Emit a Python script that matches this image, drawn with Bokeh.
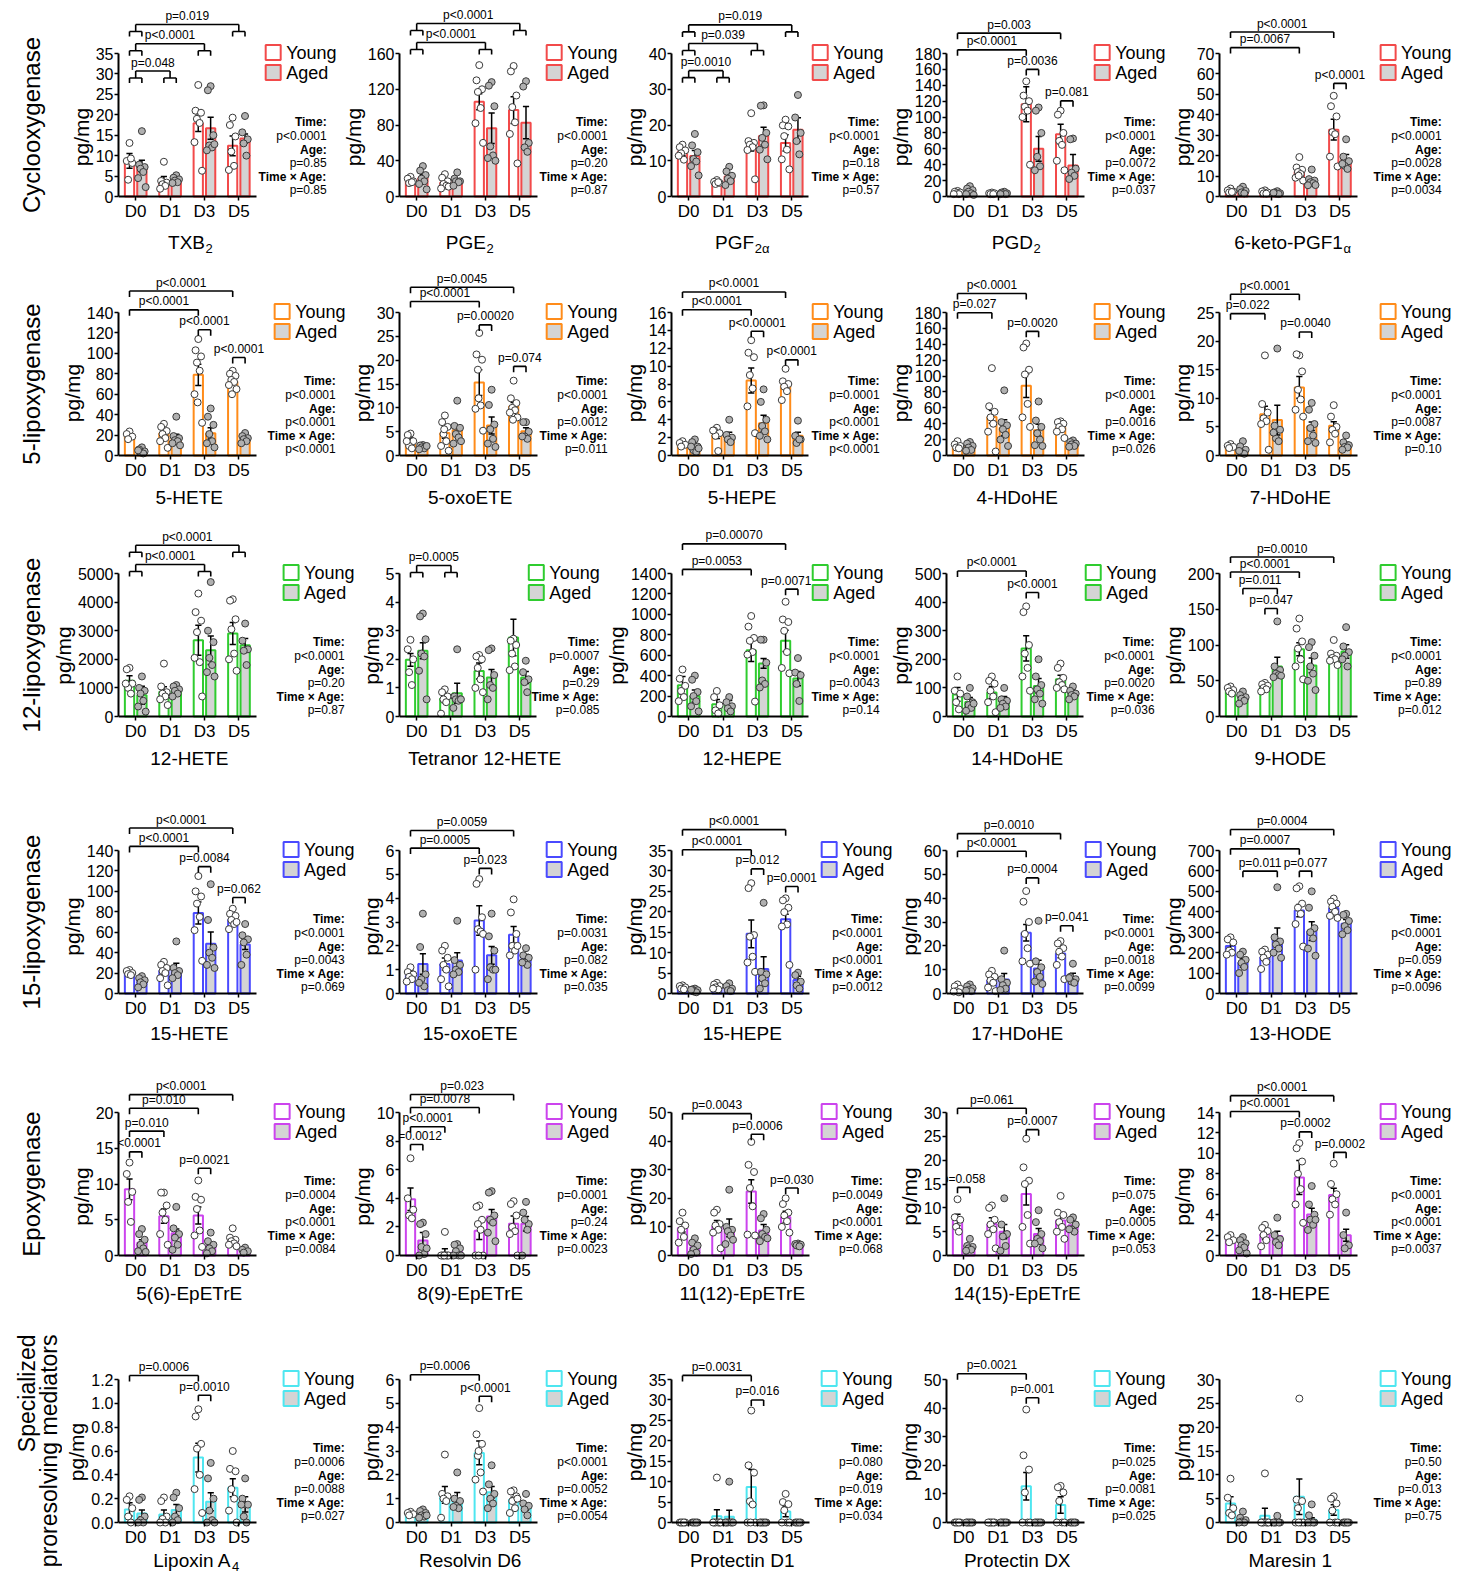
import math
from bokeh.plotting import figure
from bokeh.models import Range1d, FixedTicker, NumeralTickFormatter, Spacer
from bokeh.layouts import row, column
from bokeh.embed import file_html
from bokeh.resources import INLINE
from bokeh.core.properties import value

# ------------------------------------------------------------------ data
DAYS = ["D0", "D1", "D3", "D5"]
SERIES = ["Young", "Aged"]
STAT_KEYS = ["Time:", "Age:", "Time × Age:"]
ROW_LABELS = ["Cyclooxygenase", "5-lipoxygenase", "12-lipoxygenase",
              "15-lipoxygenase", "Epoxygenase",
              "Specialized\nproresolving mediators"]

# ---- Cyclooxygenase
TXB2_title = ("TXB", "2")
TXB2_axis = (35, 5)
TXB2_y_mean = [8.7, 3.9, 17.9, 12.4]
TXB2_y_sem = [1.8, 1.0, 2.0, 2.4]
TXB2_a_mean = [7.4, 4.1, 16.7, 14.2]
TXB2_a_sem = [1.5, 0.4, 2.7, 1.1]
TXB2_y_pts = [[13.1, 8.7, 8.2, 4.1, 9.3], [8.5, 3.8, 3.4, 3.0, 2.6, 1.9],
              [27.3, 21.0, 20.5, 19.0, 18.0, 13.3, 6.3], [19.3, 17.5, 14.7, 11.0, 7.5, 6.5]]
TXB2_a_pts = [[16.0, 7.8, 7.2, 6.8, 6.0, 4.5, 2.3], [5.2, 4.6, 4.2, 3.9, 3.5, 3.3],
              [27.0, 26.0, 15.0, 12.5, 12.0, 11.3, 12.8], [19.7, 15.7, 14.0, 13.0, 10.0]]
TXB2_brackets = [("G0", "G3", 42.1, "p=0.019"), ("G0", "G2", 37.4, "p<0.0001"),
                 ("G0", "G1", 30.7, "p=0.048")]
TXB2_stats = ["p<0.0001", "p=0.85", "p=0.85"]

PGE2_title = ("PGE", "2")
PGE2_axis = (160, 40)
PGE2_y_mean = [17.9, 15.6, 106, 96.7]
PGE2_y_sem = [2.0, 2.0, 9.0, 15.0]
PGE2_a_mean = [20.8, 18.2, 76.3, 82.6]
PGE2_a_sem = [3.5, 1.5, 17.0, 18.0]
PGE2_y_pts = [[22, 20, 17, 15, 16], [25, 21, 17, 14, 12, 9, 11],
              [147, 130, 120, 117, 99, 82, 60], [146, 140, 113, 100, 83, 70, 37]]
PGE2_a_pts = [[34, 29, 24, 20, 17, 14, 8], [27, 20, 17, 17, 16, 12],
              [128, 124, 101, 56, 46, 43, 40], [129, 123, 60, 55, 50]]
PGE2_brackets = [("G0", "G3", 193.5, "p<0.0001"), ("G0", "G2", 172.3, "p<0.0001")]
PGE2_stats = ["p<0.0001", "p=0.20", "p=0.87"]

PGF2A_title = ("PGF", "2α")
PGF2A_axis = (40, 10)
PGF2A_y_mean = [12.5, 4.0, 13.9, 15.0]
PGF2A_y_sem = [1.1, 0.3, 1.2, 2.3]
PGF2A_a_mean = [11.3, 5.6, 16.9, 18.7]
PGF2A_a_sem = [1.6, 0.7, 2.5, 3.3]
PGF2A_y_pts = [[14.5, 13.8, 12.9, 12.1, 10.3, 11.4], [4.6, 4.1, 3.8, 3.5, 4.0],
               [23.3, 15.5, 15.0, 14.5, 13.8, 13.0, 4.8], [21.5, 19.9, 19.6, 16.9, 13.1, 10.4, 7.6]]
PGF2A_a_pts = [[17.5, 14.3, 12.4, 10.5, 9.8, 8.5, 5.9], [8.3, 7.0, 5.8, 5.0, 4.3, 3.2],
               [25.5, 25.4, 17.8, 16.4, 14.5, 13.1, 10.4], [28.4, 22.1, 17.8, 15.5, 11.8]]
PGF2A_brackets = [("G0", "G3", 48.0, "p=0.019"), ("G0", "G2", 42.8, "p=0.039"),
                  ("G0", "G1", 35.2, "p=0.0010")]
PGF2A_stats = ["p<0.0001", "p=0.18", "p=0.57"]

PGD2_title = ("PGD", "2")
PGD2_axis = (180, 20)
PGD2_y_mean = [4.6, 3.8, 116, 78.5]
PGD2_y_sem = [0.8, 0.5, 22, 12.5]
PGD2_a_mean = [5.0, 4.2, 60, 39]
PGD2_a_sem = [1.5, 0.6, 15.5, 14]
PGD2_y_pts = [[7, 6, 5, 4, 3, 3], [5, 4, 4, 3, 3],
              [145, 127, 120, 113, 108, 100, 40], [108, 103, 80, 70, 65, 45, 33]]
PGD2_a_pts = [[13, 10, 8, 6, 4, 3, 2], [6, 5, 4, 4, 3, 3],
              [112, 108, 80, 50, 38, 33], [73, 72, 35, 30, 26, 22]]
PGD2_brackets = [("Y0", "Y3", 205.6, "p=0.003"), ("Y0", "Y2", 184.6, "p<0.0001"),
                 ("Y2", "A2", 160, "p=0.0036"), ("Y3", "A3", 120.4, "p=0.081")]
PGD2_stats = ["p<0.0001", "p=0.0072", "p=0.037"]

KETO_title = ("6-keto-PGF1", "α")
KETO_axis = (70, 10)
KETO_y_mean = [2.7, 2.1, 12.1, 32.7]
KETO_y_sem = [0.4, 0.3, 1.6, 5.1]
KETO_a_mean = [2.9, 1.8, 7.7, 18.2]
KETO_a_sem = [0.5, 0.2, 1.0, 2.4]
KETO_y_pts = [[3.9, 3.0, 2.4, 2.0, 2.2], [3.0, 2.5, 2.0, 1.5, 1.4],
              [19.3, 14.2, 13.1, 12.0, 11.0, 9.2, 7.8, 10.2], [49.3, 44.2, 39.2, 31.5, 30.5, 19.5, 14.7]]
KETO_a_pts = [[4.8, 3.6, 2.7, 2.0, 1.5], [2.6, 2.0, 1.6, 1.4, 1.2, 1.8],
              [13.2, 8.5, 7.8, 7.0, 6.5, 5.5, 5.6], [28.0, 19.5, 17.3, 15.0, 13.5, 16.0]]
KETO_brackets = [("Y0", "Y3", 80.5, "p<0.0001"), ("Y0", "Y2", 72.9, "p=0.0067"),
                 ("Y3", "A3", 55.4, "p<0.0001")]
KETO_stats = ["p<0.0001", "p=0.0028", "p=0.0034"]

# ---- 5-lipoxygenase
HETE5_title = ("5-HETE", "")
HETE5_axis = (140, 20)
HETE5_y_mean = [19.4, 21.7, 79, 72.3]
HETE5_y_sem = [1.5, 3.0, 10.4, 2.5]
HETE5_a_mean = [4.9, 16.8, 21.7, 15.9]
HETE5_a_sem = [1.0, 4.0, 5.5, 1.5]
HETE5_y_pts = [[23.5, 21, 18.5, 16], [31, 28, 24, 21, 17, 14, 7.5],
               [114, 103, 97, 91, 83, 60, 32, 52], [83, 80, 78, 74, 72, 69, 65, 60]]
HETE5_a_pts = [[8, 6, 4, 3, 2, 5], [38, 19, 17, 15, 14, 12, 10],
               [46, 38, 30, 21, 14, 12, 8], [22, 19, 17, 16, 14, 12]]
HETE5_brackets = [("Y0", "Y3", 161, "p<0.0001"), ("Y0", "Y2", 142.6, "p<0.0001"),
                  ("Y2", "A2", 123.1, "p<0.0001"), ("Y3", "A3", 95.9, "p<0.0001")]
HETE5_stats = ["p<0.0001", "p<0.0001", "p<0.0001"]

OXO5_title = ("5-oxoETE", "")
OXO5_axis = (30, 5)
OXO5_y_mean = [3.06, 4.7, 15.3, 10.3]
OXO5_y_sem = [0.6, 1.1, 2.7, 0.8]
OXO5_a_mean = [1.9, 5.3, 6.3, 5.1]
OXO5_a_sem = [0.3, 0.9, 1.8, 0.7]
OXO5_y_pts = [[4.6, 4.3, 3.0, 2.0, 1.5, 3.0], [8.4, 7.0, 6.0, 4.5, 3.0, 2.0, 1.0, 5.5],
              [25.7, 21.2, 20.1, 18.0, 10.5, 9.8, 5.2, 12.0], [15.7, 12.0, 11.0, 10.0, 9.5, 9.0, 8.0, 7.5]]
OXO5_a_pts = [[2.2, 2.1, 1.9, 1.7, 1.5, 1.3, 2.0], [11.5, 6.2, 5.8, 4.5, 3.8, 2.5, 3.0],
              [13.8, 10.6, 6.5, 5.5, 3.5, 2.5, 1.8], [7.0, 7.0, 5.0, 4.0, 3.5, 4.0]]
OXO5_brackets = [("Y0", "Y3", 35.3, "p=0.0045"), ("Y0", "Y2", 32.3, "p<0.0001"),
                 ("Y2", "A2", 27.4, "p=0.00020"), ("Y3", "A3", 18.7, "p=0.074")]
OXO5_stats = ["p<0.0001", "p=0.0012", "p=0.011"]

HEPE5_title = ("5-HEPE", "")
HEPE5_axis = (16, 2)
HEPE5_y_mean = [1.3, 2.3, 8.4, 7.8]
HEPE5_y_sem = [0.2, 0.4, 1.4, 0.3]
HEPE5_a_mean = [1.0, 2.2, 3.6, 2.2]
HEPE5_a_sem = [0.3, 0.4, 0.9, 0.4]
HEPE5_y_pts = [[1.6, 1.4, 1.2, 1.0], [3.1, 2.8, 2.5, 2.2, 0.5, 2.8],
               [12.9, 11.5, 11.0, 9.0, 7.5, 5.5, 2.5], [9.7, 8.3, 8.0, 7.7, 7.2, 6.2]]
HEPE5_a_pts = [[1.8, 1.5, 1.0, 0.6, 0.4, 1.0, 0.8], [4.0, 2.3, 2.0, 1.8, 1.5],
               [7.4, 6.0, 4.0, 3.3, 2.7, 2.2, 1.8], [3.9, 2.2, 1.8, 1.4, 1.8]]
HEPE5_brackets = [("Y0", "Y3", 18.3, "p<0.0001"), ("Y0", "Y2", 16.3, "p<0.0001"),
                  ("Y2", "A2", 13.9, "p<0.00001"), ("Y3", "A3", 10.7, "p<0.0001")]
HEPE5_stats = ["p=0.0001", "p<0.0001", "p<0.0001"]

HDOHE4_title = ("4-HDoHE", "")
HDOHE4_axis = (180, 20)
HDOHE4_y_mean = [12.7, 48.6, 87.9, 35.1]
HDOHE4_y_sem = [2.0, 8.0, 14.8, 3.3]
HDOHE4_a_mean = [11.4, 35.0, 31.7, 14.8]
HDOHE4_a_sem = [2.0, 10.0, 7.6, 2.0]
HDOHE4_y_pts = [[18, 14, 12, 10, 9], [110, 62, 55, 48, 40, 30, 5],
                [141, 136, 108, 102, 65, 48, 36], [43, 42, 40, 36, 33, 30, 22]]
HDOHE4_a_pts = [[17, 15, 12, 10, 7, 6], [82, 42, 38, 33, 26, 20, 12],
                [68, 44, 36, 28, 20, 13, 12], [19, 17, 15, 14, 12, 11]]
HDOHE4_brackets = [("Y0", "Y2", 204, "p<0.0001"), ("Y0", "Y1", 179.6, "p=0.027"),
                   ("Y2", "A2", 156.3, "p=0.0020")]
HDOHE4_stats = ["p<0.0001", "p=0.0016", "p=0.026"]

HDOHE7_title = ("7-HDoHE", "")
HDOHE7_axis = (25, 5)
HDOHE7_y_mean = [1.57, 7.2, 11.9, 5.2]
HDOHE7_y_sem = [0.2, 1.4, 1.9, 0.7]
HDOHE7_a_mean = [1.05, 6.2, 5.1, 1.9]
HDOHE7_a_sem = [0.3, 2.6, 0.75, 0.4]
HDOHE7_y_pts = [[2.0, 1.7, 1.5, 1.3], [17.5, 9.0, 7.5, 6.5, 6.0, 5.5, 1.0],
                [17.5, 17.7, 14.7, 11.5, 9.8, 8.0, 6.8], [8.8, 6.8, 5.0, 4.5, 3.8, 2.3]]
HDOHE7_a_pts = [[2.5, 1.6, 1.0, 0.5, 0.3, 0.8], [18.7, 5.2, 4.5, 3.0, 2.5, 4.0],
                [9.2, 8.0, 5.5, 4.8, 3.5, 2.5, 2.2], [3.5, 2.3, 1.8, 1.5, 1.4, 1.0]]
HDOHE7_brackets = [("Y0", "Y2", 28.2, "p<0.0001"), ("Y0", "Y1", 24.8, "p=0.022"),
                   ("Y2", "A2", 21.6, "p=0.0040")]
HDOHE7_stats = ["p<0.0001", "p=0.0087", "p=0.10"]

# ---- 12-lipoxygenase
HETE12_title = ("12-HETE", "")
HETE12_axis = (5000, 1000)
HETE12_y_mean = [1247, 862, 2669, 2902]
HETE12_y_sem = [175, 175, 524, 385]
HETE12_a_mean = [746, 920, 2319, 2494]
HETE12_a_sem = [314, 152, 500, 233]
HETE12_y_pts = [[1700, 1650, 1150, 1000, 800, 1150], [1850, 1050, 850, 800, 700, 600, 400],
                [4300, 3650, 3350, 2950, 1900, 2050, 700], [4100, 4050, 3400, 3050, 2200, 2000, 1600]]
HETE12_a_pts = [[1400, 1000, 900, 800, 550, 350, 170], [1100, 1050, 950, 900, 800, 700],
                [4700, 3000, 2600, 2050, 1800, 1550, 1400], [3250, 2650, 2350, 2300, 1800]]
HETE12_brackets = [("G0", "G3", 5990, "p<0.0001"), ("G0", "G2", 5315, "p<0.0001")]
HETE12_stats = ["p<0.0001", "p=0.20", "p=0.87"]

TET12_title = ("Tetranor 12-HETE", "")
TET12_axis = (5, 1)
TET12_y_mean = [1.98, 0.63, 1.59, 2.76]
TET12_y_sem = [0.22, 0.15, 0.28, 0.64]
TET12_a_mean = [2.3, 0.81, 1.36, 1.36]
TET12_a_sem = [0.28, 0.35, 0.28, 0.21]
TET12_y_pts = [[2.68, 2.35, 2.0, 1.55, 1.1], [0.95, 0.85, 0.7, 0.6, 0.5, 0.1],
               [2.15, 2.1, 2.0, 1.7, 1.3, 1.0, 0.85], [2.72, 2.65, 2.5, 2.2, 1.75, 1.62]]
TET12_a_pts = [[3.6, 3.5, 2.7, 2.2, 2.1, 1.6, 0.6], [2.35, 0.7, 0.6, 0.6, 0.55, 0.3, 0.6],
               [2.38, 2.32, 1.45, 1.1, 1.0, 0.6], [1.95, 1.55, 1.3, 1.2, 0.85]]
TET12_brackets = [("G0", "G1", 5.28, "p=0.0005")]
TET12_stats = ["p=0.0007", "p=0.29", "p=0.085"]

HEPE12_title = ("12-HEPE", "")
HEPE12_axis = (1400, 200)
HEPE12_y_mean = [305, 121, 648, 741]
HEPE12_y_sem = [86, 45, 110, 104]
HEPE12_a_mean = [201, 114, 520, 371]
HEPE12_a_sem = [59, 42, 48, 69]
HEPE12_y_pts = [[460, 370, 300, 250, 190, 150], [250, 190, 110, 60, 30],
                [984, 880, 769, 741, 631, 606, 146], [1123, 950, 925, 839, 631, 475, 423]]
HEPE12_a_pts = [[400, 360, 240, 200, 150, 100, 50], [190, 140, 100, 80, 50],
                [752, 752, 527, 353, 319, 284], [572, 430, 405, 319, 152]]
HEPE12_brackets = [("Y0", "Y3", 1690, "p=0.00070"), ("Y0", "Y2", 1440, "p=0.0053"),
                   ("Y3", "A3", 1247, "p=0.0071")]
HEPE12_stats = ["p<0.0001", "p=0.0043", "p=0.14"]

HDOHE14_title = ("14-HDoHE", "")
HDOHE14_axis = (500, 100)
HDOHE14_y_mean = [77, 84, 238, 130.5]
HDOHE14_y_sem = [24, 21, 44, 14]
HDOHE14_a_mean = [51, 57, 107, 80]
HDOHE14_a_sem = [15, 13, 26, 12]
HDOHE14_y_pts = [[140, 90, 80, 50, 25], [140, 125, 115, 90, 70, 50, 15],
                 [385, 365, 250, 220, 170, 140, 90], [185, 170, 135, 120, 110, 100, 95]]
HDOHE14_a_pts = [[100, 70, 50, 40, 30, 20, 45], [100, 60, 55, 45, 35, 30],
                 [200, 140, 110, 95, 80, 60, 45], [105, 90, 80, 75, 70, 60]]
HDOHE14_brackets = [("Y0", "Y2", 509, "p<0.0001"), ("Y2", "A2", 433.6, "p<0.0001")]
HDOHE14_stats = ["p<0.0001", "p=0.0020", "p=0.036"]

HODE9_title = ("9-HODE", "")
HODE9_axis = (200, 50)
HODE9_y_mean = [36.4, 41.1, 94, 84.6]
HODE9_y_sem = [2.4, 3.3, 9.0, 3.3]
HODE9_a_mean = [25.7, 70, 71.5, 91]
HODE9_a_sem = [3.7, 13, 10.3, 9.5]
HODE9_y_pts = [[42, 40, 37, 35, 32], [47, 45, 43, 40, 38, 35],
               [137, 123, 105, 95, 80, 70, 52], [107, 88, 85, 82, 80, 78, 72]]
HODE9_a_pts = [[35, 30, 27, 25, 22, 18], [133, 70, 65, 60, 58, 55, 57],
               [104, 97, 85, 70, 60, 50, 37], [125, 98, 90, 85, 70, 80]]
HODE9_brackets = [("Y0", "Y3", 223, "p=0.0010"), ("Y0", "Y2", 202, "p<0.0001"),
                  ("A0", "A1", 179, "p=0.011"), ("Y1", "A1", 151, "p=0.047")]
HODE9_stats = ["p<0.0001", "p=0.89", "p=0.012"]

# ---- 15-lipoxygenase
HETE15_title = ("15-HETE", "")
HETE15_axis = (140, 20)
HETE15_y_mean = [20.7, 22.3, 78.9, 72.3]
HETE15_y_sem = [1.5, 3.7, 10.8, 3.3]
HETE15_a_mean = [11.8, 24, 48.6, 48]
HETE15_a_sem = [1.5, 5.6, 11.5, 4.9]
HETE15_y_pts = [[23, 22, 20, 19, 18], [31, 28, 25, 22, 20, 15, 8],
                [115, 100, 95, 88, 75, 62, 32], [83, 78, 76, 72, 68, 63, 70]]
HETE15_a_pts = [[17, 15, 13, 11, 9, 6], [51, 25, 22, 20, 18, 15],
                [107, 72, 45, 40, 35, 28, 25], [68, 57, 53, 50, 38, 28]]
HETE15_brackets = [("Y0", "Y3", 162, "p<0.0001"), ("Y0", "Y2", 144, "p<0.0001"),
                   ("Y2", "A2", 124.2, "p=0.0084"), ("Y3", "A3", 94, "p=0.062")]
HETE15_stats = ["p<0.0001", "p=0.0043", "p=0.069"]

OXO15_title = ("15-oxoETE", "")
OXO15_axis = (6, 1)
OXO15_y_mean = [0.76, 1.24, 3.06, 2.46]
OXO15_y_sem = [0.18, 0.25, 0.62, 0.35]
OXO15_a_mean = [1.24, 1.38, 1.6, 1.46]
OXO15_a_sem = [0.43, 0.33, 0.37, 0.18]
OXO15_y_pts = [[1.1, 0.9, 0.8, 0.7, 0.6, 0.5], [2.0, 1.8, 1.5, 1.2, 1.0, 0.6, 0.3],
               [4.8, 4.6, 3.2, 2.7, 2.6, 1.0, 2.5], [3.95, 3.4, 2.5, 2.0, 1.8, 1.6, 2.0]]
OXO15_a_pts = [[3.35, 1.95, 0.8, 0.6, 0.3, 0.45], [3.05, 1.4, 1.2, 1.0, 0.9, 0.8],
               [3.35, 2.4, 1.8, 1.1, 1.0, 0.6, 1.0], [1.9, 1.6, 1.5, 1.3, 1.2, 1.3]]
OXO15_brackets = [("Y0", "Y3", 6.84, "p=0.0059"), ("Y0", "Y2", 6.1, "p=0.0005"),
                  ("Y2", "A2", 5.25, "p=0.023")]
OXO15_stats = ["p=0.0031", "p=0.082", "p=0.035"]

HEPE15_title = ("15-HEPE", "")
HEPE15_axis = (35, 5)
HEPE15_y_mean = [1.5, 1.6, 14.6, 18.2]
HEPE15_y_sem = [0.2, 0.25, 3.4, 1.2]
HEPE15_a_mean = [0.8, 1.3, 6.0, 3.3]
HEPE15_a_sem = [0.15, 0.3, 3.0, 0.9]
HEPE15_y_pts = [[2.0, 1.8, 1.5, 1.2, 1.0], [2.6, 2.2, 1.8, 1.5, 1.0, 1.2],
                [27.0, 25.8, 14.3, 13.9, 9.0, 7.6, 5.3], [23.3, 22.8, 21.0, 19.9, 16.9, 16.4, 7.0]]
HEPE15_a_pts = [[1.2, 1.0, 0.8, 0.5, 0.3, 0.9], [2.5, 1.8, 1.2, 0.8, 0.6],
                [22.2, 5.3, 4.7, 3.7, 2.5, 1.2], [5.1, 4.5, 2.9, 2.0, 1.2]]
HEPE15_brackets = [("Y0", "Y3", 40.1, "p<0.0001"), ("Y0", "Y2", 35.2, "p<0.0001"),
                   ("Y2", "A2", 30.5, "p=0.012"), ("Y3", "A3", 26.2, "p=0.0001")]
HEPE15_stats = ["p<0.0001", "p<0.0001", "p=0.0012"]

HDOHE17_title = ("17-HDoHE", "")
HDOHE17_axis = (60, 10)
HDOHE17_y_mean = [1.8, 5.6, 25.5, 16.8]
HDOHE17_y_sem = [0.5, 1.7, 3.5, 1.8]
HDOHE17_a_mean = [2.1, 5.9, 10.5, 6.9]
HDOHE17_a_sem = [0.4, 2.5, 3.5, 1.6]
HDOHE17_y_pts = [[3.8, 3.0, 2.0, 1.0, 0.5, 0.8], [9.5, 8.0, 7.0, 5.5, 4.5, 2.5, 1.0],
                 [43.0, 38.5, 30.0, 25.0, 19.0, 13.5, 12.5], [22.0, 21.0, 19.0, 17.5, 15.5, 12.0, 6.0]]
HDOHE17_a_pts = [[3.8, 3.0, 2.2, 1.5, 1.0, 1.2], [18.0, 6.0, 4.5, 3.5, 2.0, 1.5],
                 [30.5, 13.5, 11.0, 9.0, 7.0, 5.0, 4.0], [12.5, 7.0, 6.0, 5.0, 4.5, 6.5]]
HDOHE17_brackets = [("Y0", "Y3", 67.1, "p=0.0010"), ("Y0", "Y2", 59.7, "p<0.0001"),
                    ("Y2", "A2", 48.5, "p=0.0004"), ("Y3", "A3", 28.4, "p=0.041")]
HDOHE17_stats = ["p<0.0001", "p=0.0018", "p=0.0099"]

HODE13_title = ("13-HODE", "")
HODE13_axis = (700, 100)
HODE13_y_mean = [232, 178, 406, 419]
HODE13_y_sem = [19, 18, 30, 17]
HODE13_a_mean = [150, 264, 305, 341]
HODE13_a_sem = [21, 57, 46, 21]
HODE13_y_pts = [[275, 265, 250, 210, 200, 190], [215, 205, 190, 175, 155, 120],
                [525, 515, 440, 420, 390, 340, 230], [465, 450, 440, 425, 400, 380, 370]]
HODE13_a_pts = [[205, 190, 165, 150, 130, 100], [520, 275, 255, 240, 220, 200, 175],
                [500, 420, 320, 300, 270, 220, 185], [390, 385, 355, 330, 310, 290]]
HODE13_brackets = [("Y0", "Y3", 803, "p=0.0004"), ("Y0", "Y2", 708, "p=0.0007"),
                   ("A0", "A1", 599, "p=0.011"), ("Y2", "A2", 599, "p=0.077")]
HODE13_stats = ["p<0.0001", "p=0.059", "p=0.0096"]

# ---- Epoxygenase
EP56_title = ("5(6)-EpETrE", "")
EP56_axis = (20, 5)
EP56_y_mean = [9.25, 5.5, 5.6, 2.1]
EP56_y_sem = [1.45, 1.0, 1.2, 0.3]
EP56_a_mean = [1.78, 3.1, 1.4, 0.7]
EP56_a_sem = [0.42, 0.6, 0.3, 0.15]
EP56_y_pts = [[13.0, 11.4, 8.9, 7.5, 4.7], [8.8, 8.8, 7.0, 6.0, 5.0, 3.0, 1.5],
              [10.5, 8.2, 7.8, 6.5, 3.5, 2.8, 1.2], [3.8, 2.5, 2.2, 2.0, 1.7, 1.5, 1.3]]
EP56_a_pts = [[3.7, 3.0, 2.2, 1.5, 1.0, 0.6, 0.5], [6.8, 3.8, 3.0, 2.5, 1.5, 0.8],
              [3.2, 2.0, 1.5, 1.0, 0.6, 0.3], [1.1, 0.8, 0.6, 0.4]]
EP56_brackets = [("Y0", "Y3", 22.5, "p<0.0001"), ("Y0", "Y2", 20.6, "p=0.010"),
                 ("Y0", "Y1", 17.4, "p=0.010"), ("Y0", "A0", 14.5, "p<0.0001"),
                 ("Y2", "A2", 12.2, "p=0.0021")]
EP56_stats = ["p=0.0004", "p<0.0001", "p=0.0084"]

EP89_title = ("8(9)-EpETrE", "")
EP89_axis = (10, 2)
EP89_y_mean = [3.93, 0.16, 1.73, 2.22]
EP89_y_sem = [0.79, 0.31, 0.61, 0.54]
EP89_a_mean = [1.05, 0.28, 2.73, 2.22]
EP89_a_sem = [0.55, 0.23, 0.49, 0.51]
EP89_y_pts = [[6.8, 4.0, 3.2, 2.8, 2.6], [1.65, 0, 0, 0, 0, 0, 0, 0],
              [3.5, 3.4, 2.5, 2.2, 1.8, 0.0, 0.0, 0.0], [3.8, 3.6, 2.8, 2.0, 1.7, 1.5, 0.0]]
EP89_a_pts = [[2.3, 2.2, 1.5, 0.6, 0.1, 0.0, 0.5], [0.8, 0.75, 0.5, 0.3, 0.0, 0.0, 0.0],
              [4.5, 4.4, 2.8, 2.5, 2.3, 1.6, 1.0], [3.75, 3.0, 2.2, 2.5, 1.8, 0.0]]
EP89_brackets = [("Y0", "Y3", 11.26, "p=0.023"), ("Y0", "Y2", 10.35, "p=0.0078"),
                 ("Y0", "Y1", 9.0, "p<0.0001"), ("Y0", "A0", 7.76, "p=0.0012")]
EP89_stats = ["p=0.0001", "p=0.24", "p=0.0023"]

EP1112_title = ("11(12)-EpETrE", "")
EP1112_axis = (50, 10)
EP1112_y_mean = [9.65, 10.2, 22.4, 13.5]
EP1112_y_sem = [1.4, 2.0, 4.1, 2.0]
EP1112_a_mean = [2.9, 9.65, 8.7, 3.6]
EP1112_a_sem = [0.8, 3.1, 2.1, 0.5]
EP1112_y_pts = [[15.0, 12.0, 10.5, 9.0, 6.5, 4.5], [16.0, 15.0, 11.0, 10.5, 9.0, 8.0, 2.5],
                [39.7, 31.7, 29.2, 23.6, 17.2, 7.3, 7.0], [20.0, 18.0, 15.0, 14.0, 12.0, 10.0, 8.0]]
EP1112_a_pts = [[6.0, 4.5, 3.5, 2.0, 1.0, 0.5], [23.0, 10.0, 9.0, 8.5, 7.0, 4.0, 5.5],
                [14.5, 13.0, 9.0, 7.5, 6.5, 5.0, 6.0], [4.2, 4.0, 3.8, 3.5, 3.2]]
EP1112_brackets = [("Y0", "Y2", 49.6, "p=0.0043"), ("Y2", "A2", 42.4, "p=0.0006"),
                   ("Y3", "A3", 23.6, "p=0.030")]
EP1112_stats = ["p=0.0049", "p<0.0001", "p=0.068"]

EP1415_title = ("14(15)-EpETrE", "")
EP1415_axis = (30, 5)
EP1415_y_mean = [7.47, 6.63, 12.9, 7.33]
EP1415_y_sem = [1.2, 1.3, 2.3, 1.1]
EP1415_a_mean = [1.88, 5.0, 4.5, 6.35]
EP1415_a_sem = [0.3, 1.5, 1.15, 0.85]
EP1415_y_pts = [[11.8, 8.0, 7.5, 6.0, 5.0], [10.5, 10.0, 7.5, 6.5, 5.5, 4.5, 1.5],
                [24.5, 18.5, 15.7, 15.0, 8.5, 6.0, 2.5], [12.5, 9.0, 8.5, 7.0, 6.0, 5.0, 3.5]]
EP1415_a_pts = [[3.5, 2.0, 1.8, 1.5, 1.2, 1.0], [12.0, 6.5, 4.5, 4.0, 2.0, 1.0],
                [9.5, 7.0, 4.5, 3.5, 3.0, 2.5, 1.5], [8.0, 7.5, 6.5, 5.5, 5.0, 5.5]]
EP1415_brackets = [("Y0", "Y2", 30.9, "p=0.061"), ("Y2", "A2", 26.4, "p=0.0007"),
                   ("Y0", "A0", 14.3, "p=0.058")]
EP1415_stats = ["p=0.075", "p=0.0005", "p=0.053"]

HEPE18_title = ("18-HEPE", "")
HEPE18_axis = (14, 2)
HEPE18_y_mean = [1.65, 2.07, 7.64, 5.93]
HEPE18_y_sem = [0.25, 0.5, 1.66, 0.66]
HEPE18_a_mean = [0.99, 1.91, 4.02, 1.98]
HEPE18_a_sem = [0.3, 0.46, 0.6, 0.59]
HEPE18_y_pts = [[2.0, 1.8, 1.5, 1.3], [3.0, 2.7, 2.4, 2.0, 1.5, 0.9],
                [11.0, 10.5, 9.2, 8.0, 6.5, 5.0, 3.2], [9.0, 7.0, 6.0, 5.5, 5.0, 4.0]]
HEPE18_a_pts = [[1.8, 1.5, 1.2, 1.0, 0.8, 0.5, 0.2], [3.7, 2.0, 1.6, 1.3, 1.0],
                [6.8, 5.0, 4.0, 3.5, 3.0, 2.5, 3.5], [4.2, 2.0, 1.0, 0.7]]
HEPE18_brackets = [("Y0", "Y3", 15.65, "p<0.0001"), ("Y0", "Y2", 14.1, "p<0.0001"),
                   ("Y2", "A2", 12.1, "p=0.0002"), ("Y3", "A3", 10.1, "p=0.0002")]
HEPE18_stats = ["p<0.0001", "p<0.0001", "p=0.0037"]

# ---- Specialized proresolving mediators
LXA4_title = ("Lipoxin A", "4")
LXA4_axis = (1.2, 0.2)
LXA4_y_mean = [0.11, 0.067, 0.545, 0.292]
LXA4_y_sem = [0.056, 0.037, 0.121, 0.076]
LXA4_a_mean = [0.076, 0.104, 0.174, 0.152]
LXA4_a_sem = [0.028, 0.048, 0.076, 0.064]
LXA4_y_pts = [[0.22, 0.19, 0.12, 0.05, 0.0], [0.21, 0.18, 0.05, 0.03, 0.0, 0.0],
              [0.95, 0.89, 0.66, 0.62, 0.4, 0.28, 0.08], [0.6, 0.45, 0.43, 0.28, 0.2, 0.1, 0.0]]
LXA4_a_pts = [[0.21, 0.19, 0.05, 0.02, 0.0, 0.0], [0.25, 0.21, 0.12, 0.05, 0.02, 0.0],
              [0.5, 0.37, 0.2, 0.1, 0.02, 0.0, 0.0], [0.37, 0.2, 0.15, 0.05, 0.0, 0.15]]
LXA4_brackets = [("Y0", "Y2", 1.234, "p=0.0006"), ("Y2", "A2", 1.068, "p=0.0010")]
LXA4_stats = ["p=0.0006", "p=0.0088", "p=0.027"]

RVD6_title = ("Resolvin D6", "")
RVD6_axis = (6, 1)
RVD6_y_mean = [0.38, 1.16, 2.92, 0.95]
RVD6_y_sem = [0.05, 0.35, 0.5, 0.11]
RVD6_a_mean = [0.35, 0.99, 1.27, 0.66]
RVD6_a_sem = [0.05, 0.27, 0.24, 0.14]
RVD6_y_pts = [[0.45, 0.4, 0.35, 0.3], [2.85, 1.2, 1.1, 1.0, 0.9, 0.2],
              [4.8, 3.7, 3.3, 2.8, 2.1, 1.8, 1.3, 3.0], [1.35, 1.3, 1.1, 0.9, 0.6, 0.4, 1.0]]
RVD6_a_pts = [[0.55, 0.48, 0.4, 0.3, 0.25, 0.2, 0.3], [2.1, 1.0, 0.9, 0.7, 0.6, 0.65],
              [2.4, 1.6, 1.2, 1.0, 0.8, 0.6], [1.2, 0.8, 0.7, 0.55, 0.3]]
RVD6_brackets = [("Y0", "Y2", 6.2, "p=0.0006"), ("Y2", "A2", 5.3, "p<0.0001")]
RVD6_stats = ["p<0.0001", "p=0.0052", "p=0.0054"]

PD1_title = ("Protectin D1", "")
PD1_axis = (35, 5)
PD1_y_mean = [0.0, 1.5, 8.7, 2.7]
PD1_y_sem = [0.0, 1.6, 4.3, 1.3]
PD1_a_mean = [0.0, 1.4, 0.0, 0.0]
PD1_a_sem = [0.0, 1.6, 0.0, 0.0]
PD1_y_pts = [[0, 0, 0, 0, 0], [11.0, 0, 0, 0, 0, 0, 0],
             [27.4, 14.0, 12.2, 5.2, 4.4, 0, 0, 0], [7.0, 5.0, 4.5, 3.0, 0, 0, 0]]
PD1_a_pts = [[0, 0, 0, 0, 0], [10.0, 0, 0, 0, 0, 0, 0], [0, 0, 0, 0, 0, 0], [0, 0, 0, 0, 0]]
PD1_brackets = [("Y0", "Y2", 36.0, "p=0.0031"), ("Y2", "A2", 30.0, "p=0.016")]
PD1_stats = ["p=0.080", "p=0.019", "p=0.034"]

PDX_title = ("Protectin DX", "")
PDX_axis = (50, 10)
PDX_y_mean = [0.0, 0.1, 12.7, 6.1]
PDX_y_sem = [0.0, 0.05, 4.8, 2.9]
PDX_a_mean = [0.0, 0.0, 0.0, 0.0]
PDX_a_sem = [0.0, 0.0, 0.0, 0.0]
PDX_y_pts = [[0, 0, 0, 0, 0], [0, 0, 0, 0, 0, 0],
             [39.5, 23.5, 18.5, 10.5, 0, 0, 0], [12.8, 12.3, 10.5, 7.5, 0, 0, 0]]
PDX_a_pts = [[0, 0, 0, 0, 0, 0], [0, 0, 0, 0, 0, 0], [0, 0, 0, 0, 0, 0], [0, 0, 0, 0, 0]]
PDX_brackets = [("Y0", "Y2", 52.0, "p=0.0021"), ("Y2", "A2", 43.6, "p=0.001")]
PDX_stats = ["p=0.025", "p=0.0081", "p=0.025"]

MAR1_title = ("Maresin 1", "")
MAR1_axis = (30, 5)
MAR1_y_mean = [4.0, 1.4, 5.4, 2.6]
MAR1_y_sem = [1.4, 1.6, 3.7, 1.1]
MAR1_a_mean = [0.6, 0.2, 0.6, 0.0]
MAR1_a_sem = [0.35, 0.2, 0.4, 0.0]
MAR1_y_pts = [[9.2, 5.2, 3.0, 2.0, 1.5], [10.3, 0, 0, 0, 0, 0, 0],
              [26.0, 4.8, 4.5, 3.0, 0, 0, 0, 0], [5.5, 5.0, 4.0, 2.5, 0, 0, 0]]
MAR1_a_pts = [[2.3, 1.0, 0.5, 0.2, 0, 0], [1.4, 0, 0, 0, 0, 0], [3.8, 1.5, 0, 0, 0, 0], [0, 0, 0, 0, 0]]
MAR1_brackets = []
MAR1_stats = ["p=0.50", "p=0.013", "p=0.75"]

PANEL_NAMES = [["TXB2", "PGE2", "PGF2A", "PGD2", "KETO"],
               ["HETE5", "OXO5", "HEPE5", "HDOHE4", "HDOHE7"],
               ["HETE12", "TET12", "HEPE12", "HDOHE14", "HODE9"],
               ["HETE15", "OXO15", "HEPE15", "HDOHE17", "HODE13"],
               ["EP56", "EP89", "EP1112", "EP1415", "HEPE18"],
               ["LXA4", "RVD6", "PD1", "PDX", "MAR1"]]

# ------------------------------------------------------------------ style / layout
ROW_COLORS = ["#f24a4a", "#ff8c1a", "#2fcc2f", "#4a4aff", "#cc44ee", "#4ee6f0"]
AGED_FILL = "#d4d4d4"
AGED_PT = "#b0b0b0"
PT_LINE = "#3a3a3a"
FONT = "'Liberation Sans', Arial, sans-serif"

YTICK_FS = 16
XTICK_FS = 17
BR_FS = 12
ST_FS = 12
TI_FS = 19
SUB_FS = 13
LEG_FS = 18
YLAB_FS = 21
ROW_FS = 24

DATA_PX = 143          # pixel height of the 0..ymax span
PX_UNIT = 35.0         # pixels per day-group
OFF = 0.18             # young/aged offset from group centre
BAR_W = 0.27
CAP = 0.09
JIT = [0.0, -0.08, 0.08, -0.04, 0.04, -0.11, 0.11, -0.02, 0.02]
FRAME_LEFT = [114, 395, 667, 942, 1215]   # page x of each panel's y axis
PAGE_END = 1453
ROW_GEOM = [(257, 188), (255, 190), (270, 196), (272, 203), (268, 193), (243, 192)]
TITLE_OFF = [46, 42, 42, 40, 38, 38]

CW = {".": 0.278, "-": 0.333, "(": 0.333, ")": 0.333, " ": 0.278, "α": 0.58,
      "=": 0.584, "<": 0.584}


def tw(s, size):
    w = 0.0
    for c in s:
        if c in CW:
            w += CW[c]
        elif c.isdigit():
            w += 0.556
        elif c.isupper():
            w += 0.68
        else:
            w += 0.53
    return w * size


def get_panel(name):
    g = globals()
    keys = ("title", "axis", "y_mean", "y_sem", "a_mean", "a_sem",
            "y_pts", "a_pts", "brackets", "stats")
    return {k: g[f"{name}_{k}"] for k in keys}


def txt(p, x, y, s, size, align="center", base="middle",
        style="normal", xoff=0, angle=0.0):
    p.text(x=x, y=y, text=s, text_font=value(FONT), text_font_size=f"{size}px",
           text_align=align, text_baseline=base, text_font_style=style,
           x_offset=xoff, angle=angle, text_color="black")


def tick_list(ymax, step):
    n = int(round(ymax / step))
    return [round(i * step, 6) for i in range(n + 1)]


def need_border(P):
    ymax, step = P["axis"]
    labs = [f"{t:.1f}" if step < 1 else f"{t:g}" for t in tick_list(ymax, step)]
    return int(math.ceil(4 + 1 + max(tw(s, YTICK_FS) for s in labs) + YLAB_FS * 1.13 + 1))


def make_panel(P, color, h, z, width, border, title_off):
    ymax, step = P["axis"]
    ticks = tick_list(ymax, step)
    k = ymax / DATA_PX
    fw = width - border
    x0 = -0.5
    x1 = x0 + fw / PX_UNIT
    p = figure(width=width, height=h, x_range=Range1d(x0, x1),
               y_range=Range1d(-k * (h - z), k * z),
               output_backend="svg", toolbar_location=None,
               min_border_left=border, min_border_right=0,
               min_border_top=0, min_border_bottom=0)
    p.outline_line_color = None
    p.xgrid.visible = False
    p.ygrid.visible = False
    p.background_fill_color = "white"
    p.border_fill_color = "white"

    xa = p.xaxis[0]
    xa.fixed_location = 0
    xa.bounds = (-0.5, 3.5)
    xa.ticker = FixedTicker(ticks=[0, 1, 2, 3])
    xa.major_label_overrides = {i: d for i, d in enumerate(DAYS)}
    xa.axis_line_width = 2
    xa.axis_line_color = "black"
    xa.major_tick_in = 0
    xa.major_tick_out = 4
    xa.major_tick_line_width = 1.5
    xa.minor_tick_line_color = None
    xa.major_label_text_font = FONT
    xa.major_label_text_font_size = f"{XTICK_FS}px"
    xa.major_label_text_color = "black"
    xa.major_label_standoff = 1

    ya = p.yaxis[0]
    ya.ticker = FixedTicker(ticks=ticks)
    if step < 1:
        ya.formatter = NumeralTickFormatter(format="0.0")
    ya.bounds = (0, ymax)
    ya.axis_line_width = 2
    ya.axis_line_color = "black"
    ya.major_tick_in = 0
    ya.major_tick_out = 4
    ya.major_tick_line_width = 1.5
    ya.minor_tick_line_color = None
    ya.major_label_text_font = FONT
    ya.major_label_text_font_size = f"{YTICK_FS}px"
    ya.major_label_text_color = "black"
    ya.major_label_standoff = 1
    ya.axis_label = "pg/mg"
    ya.axis_label_text_font = FONT
    ya.axis_label_text_font_size = f"{YLAB_FS}px"
    ya.axis_label_text_font_style = "normal"
    ya.axis_label_text_color = "black"
    ya.axis_label_standoff = 0

    gx = list(range(4))
    xy = [g - OFF for g in gx]
    xg = [g + OFF for g in gx]

    # bars (group means)
    p.vbar(x=xy, top=P["y_mean"], bottom=0, width=BAR_W, fill_color="white",
           line_color=color, line_width=2)
    p.vbar(x=xg, top=P["a_mean"], bottom=0, width=BAR_W, fill_color=AGED_FILL,
           line_color=color, line_width=2)

    # error bars (mean +/- SEM)
    ex0, ey0, ex1, ey1 = [], [], [], []
    for xs, ms, ss in ((xy, P["y_mean"], P["y_sem"]), (xg, P["a_mean"], P["a_sem"])):
        for x, m, s in zip(xs, ms, ss):
            if s <= 0:
                continue
            lo, hi = max(m - s, 0), m + s
            ex0 += [x, x - CAP, x - CAP]
            ex1 += [x, x + CAP, x + CAP]
            ey0 += [lo, hi, lo]
            ey1 += [hi, hi, lo]
    p.segment(x0=ex0, y0=ey0, x1=ex1, y1=ey1, line_color="black", line_width=1.5)

    # individual animals
    px, py, pf = [], [], []
    for g in gx:
        for i, v in enumerate(P["y_pts"][g]):
            px.append(g - OFF + JIT[i % len(JIT)]); py.append(v); pf.append("white")
        for i, v in enumerate(P["a_pts"][g]):
            px.append(g + OFF + JIT[i % len(JIT)]); py.append(v); pf.append(AGED_PT)
    p.scatter(x=px, y=py, size=7, marker="circle", fill_color=pf,
              line_color=PT_LINE, line_width=1)

    # legend geometry (pixels inside the frame)
    leg_left = fw - 74
    leg_lo, leg_hi = DATA_PX - 29, DATA_PX + 11

    # significance brackets
    bx0, by0, bx1, by1 = [], [], [], []
    tx, ty, tt, to = [], [], [], []

    def seg(a, b, c, d):
        bx0.append(a); by0.append(b); bx1.append(c); by1.append(d)

    def pos(code):
        g = int(code[1:])
        return {"Y": g - OFF, "A": g + OFF, "G": g}[code[0]]

    for a, b, yv, label in P["brackets"]:
        xa_, xb_ = pos(a), pos(b)
        if a[0] == "G":
            ys = yv - 7 * k
            seg(xa_, yv, xb_, yv)
            seg(xa_, yv, xa_, ys)
            seg(xb_, yv, xb_, ys)
            for g in (xa_, xb_):
                seg(g - OFF, ys, g + OFF, ys)
                seg(g - OFF, ys, g - OFF, ys - 5 * k)
                seg(g + OFF, ys, g + OFF, ys - 5 * k)
        else:
            seg(xa_, yv, xb_, yv)
            seg(xa_, yv, xa_, yv - 6 * k)
            seg(xb_, yv, xb_, yv - 6 * k)
        xc = (xa_ + xb_) / 2
        # keep the label clear of the legend block
        c_px = (xc - x0) * PX_UNIT
        right = c_px + tw(label, BR_FS) / 2
        y_px = yv / k
        shift = 0.0
        if y_px + 1.5 < leg_hi and y_px + 16 > leg_lo and right > leg_left - 2:
            shift = (leg_left - 2) - right
        tx.append(xc); ty.append(yv + 1.5 * k); tt.append(label); to.append(shift)
    if bx0:
        p.segment(x0=bx0, y0=by0, x1=bx1, y1=by1, line_color="black", line_width=1.6)
        txt(p, tx, ty, tt, BR_FS, align="center", base="bottom", xoff=to)

    # legend
    lx = x0 + (leg_left + 7.5) / PX_UNIT
    ly = [ymax + 1 * k, ymax - 19 * k]
    p.scatter(x=[lx, lx], y=ly, marker="square", size=15,
              fill_color=["white", AGED_FILL], line_color=color, line_width=2)
    txt(p, [lx, lx], ly, SERIES, LEG_FS, align="left", base="middle", xoff=13)

    # two-way ANOVA summary
    srx = min(fw - 2, max(fw - 12, 212))
    sx = x0 + srx / PX_UNIT
    txt(p, [sx] * 3, [75 * k, 47 * k, 20 * k], STAT_KEYS, ST_FS, align="right", style="bold")
    txt(p, [sx] * 3, [61 * k, 33.5 * k, 6.5 * k], P["stats"], ST_FS, align="right")

    # analyte title
    main, sub = P["title"]
    wt = tw(main, TI_FS) + (tw(sub, SUB_FS) if sub else 0)
    cpx = max(72, wt / 2 + 3)
    cx = x0 + cpx / PX_UNIT
    ty0 = -title_off * k
    if sub:
        J = (tw(main, TI_FS) - tw(sub, SUB_FS)) / 2
        txt(p, [cx], [ty0], [main], TI_FS, align="right", base="middle", xoff=J)
        txt(p, [cx], [ty0 - 6 * k], [sub], SUB_FS, align="left", base="middle", xoff=J + 0.5)
    else:
        txt(p, [cx], [ty0], [main], TI_FS, align="center", base="middle")
    return p


def make_label(text, h, z, width, two_lines):
    p = figure(width=width, height=h, x_range=Range1d(0, width), y_range=Range1d(0, h),
               output_backend="svg", toolbar_location=None, min_border=0,
               x_axis_type=None, y_axis_type=None)
    p.outline_line_color = None
    p.xgrid.visible = False
    p.ygrid.visible = False
    if two_lines:
        first, second = text.split("\n")
        txt(p, [width - 36], [h - 4], [first], 23, align="right", base="middle", angle=math.pi / 2)
        txt(p, [width - 14], [h - 4], [second], 23, align="right", base="middle", angle=math.pi / 2)
    else:
        txt(p, [31], [h - (z - 71.5)], [text], ROW_FS, align="center", base="middle",
            angle=math.pi / 2)
    return p


rows = [Spacer(width=10, height=8)]
for ri, names in enumerate(PANEL_NAMES):
    h, z = ROW_GEOM[ri]
    panels = [get_panel(n) for n in names]
    borders = [need_border(P) for P in panels]
    starts = [FRAME_LEFT[i] - borders[i] for i in range(5)]
    ends = starts[1:] + [PAGE_END]
    two = "\n" in ROW_LABELS[ri]
    figs = [make_label(ROW_LABELS[ri], h, z, starts[0], two)]
    for i, P in enumerate(panels):
        figs.append(make_panel(P, ROW_COLORS[ri], h, z, ends[i] - starts[i], borders[i],
                               TITLE_OFF[ri]))
    rows.append(row(*figs))

layout = column(*rows)
open("out.html", "w").write(file_html(layout, INLINE, title="Lipid mediators: young vs aged"))
